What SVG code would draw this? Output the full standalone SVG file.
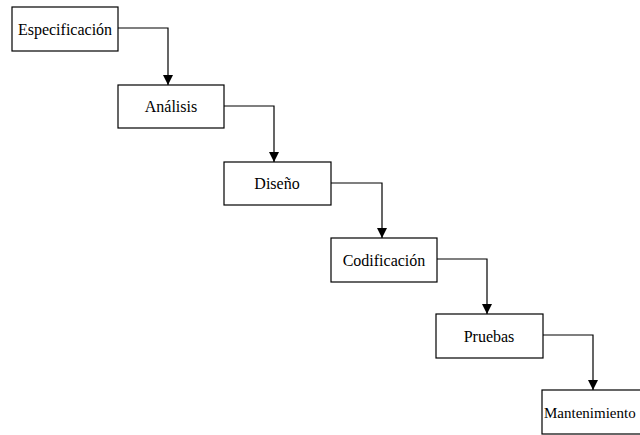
<svg xmlns="http://www.w3.org/2000/svg" width="640" height="435" viewBox="0 0 640 435">
  <style>
    .box { fill: #ffffff; stroke: #000000; stroke-width: 1.2; }
    .lbl { font-family: "Liberation Serif", "Times New Roman", serif; font-size: 16px; fill: #000000; text-anchor: middle; }
    .link { fill: none; stroke: #000000; stroke-width: 1.2; marker-end: url(#arrow); }
  </style>
  <defs>
    <marker id="arrow" viewBox="0 0 10 10" refX="10" refY="5" markerWidth="10" markerHeight="10" markerUnits="userSpaceOnUse" orient="auto">
      <path d="M0,0 L10,5 L0,10 Z" fill="#000000"/>
    </marker>
  </defs>
  <rect width="640" height="435" fill="#ffffff"/>

  <g id="connectors">
    <path class="link" d="M118,28 H168 V85"/>
    <path class="link" d="M224,106 H274 V162"/>
    <path class="link" d="M331,183 H382 V238"/>
    <path class="link" d="M437,259 H487 V314"/>
    <path class="link" d="M543,335 H593 V390"/>
  </g>

  <g id="especificacion">
    <rect class="box" x="12" y="7" width="106" height="44"/>
    <text class="lbl" x="65" y="35">Especificación</text>
  </g>
  <g id="analisis">
    <rect class="box" x="118" y="85" width="106" height="43"/>
    <text class="lbl" x="171" y="112">Análisis</text>
  </g>
  <g id="diseno">
    <rect class="box" x="224" y="162" width="107" height="43"/>
    <text class="lbl" x="277" y="189">Diseño</text>
  </g>
  <g id="codificacion">
    <rect class="box" x="331" y="238" width="106" height="44"/>
    <text class="lbl" x="384" y="266">Codificación</text>
  </g>
  <g id="pruebas">
    <rect class="box" x="436" y="314" width="107" height="44"/>
    <text class="lbl" x="489" y="342">Pruebas</text>
  </g>
  <g id="mantenimiento">
    <rect class="box" x="542" y="390" width="106" height="44"/>
    <text class="lbl" x="544" y="418" style="text-anchor:start;font-size:15px">Mantenimiento</text>
  </g>
</svg>
